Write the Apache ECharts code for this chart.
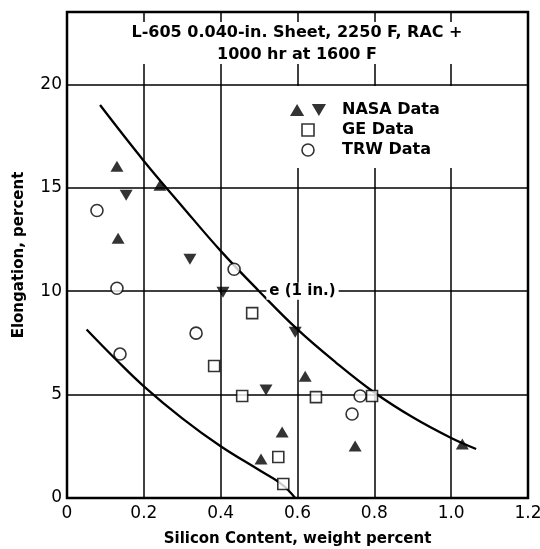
<!DOCTYPE html>
<html>
<head>
<meta charset="utf-8">
<script src="https://cdn.jsdelivr.net/npm/echarts@6/dist/echarts.min.js"></script>
<style>html,body{margin:0;padding:0;background:#fff}#c{width:540px;height:549px}</style>
</head>
<body>
<div id="c"></div>
<script>
// ---- data ----
const titleLines = ['L-605 0.040-in. Sheet, 2250 F, RAC +', '1000 hr at 1600 F'];
const xName = 'Silicon Content, weight percent';
const yName = 'Elongation, percent';
const xTickLabels = ['0', '0.2', '0.4', '0.6', '0.8', '1.0', '1.2'];
const yTickLabels = ['0', '5', '10', '15', '20'];

const nasaUp = [[0.130,16.04],[0.242,15.12],[0.133,12.56],[0.560,3.19],[0.505,1.88],[0.620,5.89],[0.750,2.51],[1.029,2.61]];
const nasaDown = [[0.154,14.64],[0.320,11.55],[0.406,9.95],[0.594,8.02],[0.518,5.22]];
const geData = [[0.482,8.94],[0.383,6.38],[0.456,4.93],[0.550,1.98],[0.563,0.68],[0.648,4.88],[0.794,4.93]];
const trwData = [[0.078,13.90],[0.130,10.14],[0.435,11.06],[0.336,7.97],[0.138,6.96],[0.742,4.06],[0.763,4.93]];

const upperCurve = [[0.086,19.0],[0.2,16.3],[0.3,14.1],[0.4,11.95],[0.5,10.0],[0.6,8.15],[0.7,6.55],[0.8,5.1],[0.9,3.9],[1.0,2.9],[1.065,2.37]];
const lowerCurve = [[0.051,8.15],[0.13,6.65],[0.2,5.4],[0.3,3.85],[0.4,2.5],[0.5,1.35],[0.56,0.65],[0.594,0.0]];
const curveLabel = {text: 'e (1 in.)', at: [0.613, 10]};

const legendNames = ['NASA Data', 'GE Data', 'TRW Data'];

// ---- chart ----
const FONT = 'DejaVu Sans';
const chart = echarts.init(document.getElementById('c'), null, {renderer: 'canvas'});
const hollow = {color: '#fff', borderColor: '#000', borderWidth: 1.6};

chart.setOption({
  animation: false,
  backgroundColor: '#fff',
  grid: {left: 67, right: 12, top: 12, bottom: 51, outerBoundsMode: 'none', containLabel: false,
    show: true, borderColor: '#000', borderWidth: 2.5, backgroundColor: 'transparent'},
  xAxis: {
    type: 'value', min: 0, max: 1.2, interval: 0.2,
    name: xName, nameLocation: 'middle', nameGap: 34,
    nameTextStyle: {fontFamily: FONT, fontWeight: 'bold', fontSize: 15, color: '#000'},
    axisLine: {show: false}, axisTick: {show: false},
    axisLabel: {fontFamily: FONT, fontSize: 17, color: '#000', margin: 7,
      formatter: v => { const i = Math.round(v / 0.2); return xTickLabels[i] || ''; }},
    splitLine: {show: true, lineStyle: {color: '#000', width: 1.5}}
  },
  yAxis: {
    type: 'value', min: 0, max: 23.5, interval: 5,
    name: yName, nameLocation: 'middle', nameGap: 40,
    nameTextStyle: {fontFamily: FONT, fontWeight: 'bold', fontSize: 15, color: '#000'},
    axisLine: {show: false}, axisTick: {show: false},
    axisLabel: {fontFamily: FONT, fontSize: 17, color: '#000', margin: 5,
      formatter: v => (Math.abs(v % 5) < 1e-9 ? (yTickLabels[Math.round(v / 5)] || '') : '')},
    splitLine: {show: true, lineStyle: {color: '#000', width: 1.5}}
  },
  legend: {
    orient: 'vertical', left: 284, top: 86,
    padding: [16, 14, 10, 6],
    backgroundColor: '#fff',
    itemWidth: 58, itemHeight: 12, itemGap: 4,
    textStyle: {fontFamily: FONT, fontWeight: 'bold', fontSize: 16, color: '#000'},
    data: [
      {name: legendNames[0], icon: 'path://M0,11 L6.5,0 L13,11 Z M20,0 L33,0 L26.5,11 Z', itemStyle: {color: '#000', borderWidth: 0}},
      {name: legendNames[1], icon: 'path://M0,0 H10 V10 H0 Z', itemStyle: hollow},
      {name: legendNames[2], icon: 'circle', itemStyle: hollow}
    ],
    z: 10
  },
  graphic: [
    {type: 'rect', z: 100, shape: {x: 69, y: 22, width: 457, height: 42}, style: {fill: '#fff'}},
    {type: 'text', z: 101, x: 297, y: 44,
      style: {text: titleLines.join('\n'), font: 'bold 16px "DejaVu Sans"', fill: '#000', align: 'center', verticalAlign: 'middle', lineHeight: 22}}
  ],
  series: [
    {type: 'line', data: upperCurve, smooth: 0.4, symbol: 'none', silent: true,
      lineStyle: {color: '#000', width: 2.3}, z: 3,
      markPoint: {symbol: 'circle', symbolSize: 0, silent: true,
        data: [{coord: curveLabel.at, value: curveLabel.text}],
        label: {show: true, position: 'inside', formatter: curveLabel.text, fontFamily: FONT, fontWeight: 'bold', fontSize: 15, color: '#000', backgroundColor: '#fff', padding: [1, 3]}}},
    {type: 'line', data: lowerCurve, smooth: 0.4, symbol: 'none', silent: true,
      lineStyle: {color: '#000', width: 2.3}, z: 3},
    {name: legendNames[0], type: 'scatter', data: nasaUp, symbol: 'triangle', symbolSize: [13, 11], itemStyle: {color: '#000'}, z: 5},
    {name: legendNames[0], type: 'scatter', data: nasaDown, symbol: 'triangle', symbolRotate: 180, symbolSize: [13, 11], itemStyle: {color: '#000'}, z: 5},
    {name: legendNames[1], type: 'scatter', data: geData, symbol: 'rect', symbolSize: 11, itemStyle: hollow, z: 5},
    {name: legendNames[2], type: 'scatter', data: trwData, symbol: 'circle', symbolSize: 12, itemStyle: hollow, z: 5}
  ]
});
</script>
</body>
</html>
